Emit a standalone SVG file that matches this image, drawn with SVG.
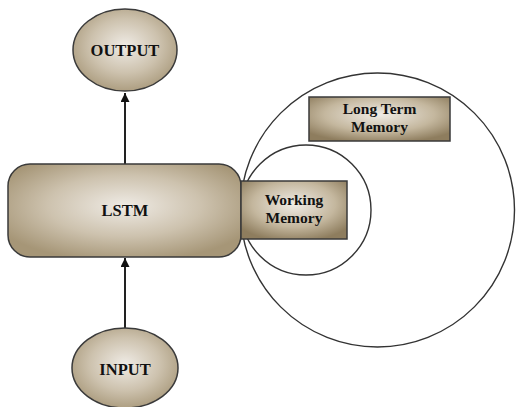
<svg xmlns="http://www.w3.org/2000/svg" width="517" height="407" viewBox="0 0 517 407">
<defs>
<radialGradient id="g" cx="50%" cy="45%" r="60%">
<stop offset="0" stop-color="#efebe5"/>
<stop offset="0.55" stop-color="#cdc2ae"/>
<stop offset="1" stop-color="#a69677"/>
</radialGradient>
<radialGradient id="gr" cx="50%" cy="40%" r="65%">
<stop offset="0" stop-color="#f0ece6"/>
<stop offset="0.6" stop-color="#c4b79e"/>
<stop offset="1" stop-color="#8e7d5e"/>
</radialGradient>
<marker id="ah" viewBox="0 0 10 10" refX="10" refY="5" markerWidth="9" markerHeight="9" markerUnits="userSpaceOnUse" orient="auto">
<path d="M0,0 L10,5 L0,10 z" fill="#111"/>
</marker>
</defs>
<style>
.n{stroke:#3a3a3a;stroke-width:1.5}
.c{fill:none;stroke:#333;stroke-width:1.4}
.t{font-family:"Liberation Serif","Times New Roman",serif;font-weight:bold;font-size:16.5px;fill:#111;text-anchor:middle}
.s{font-size:15.5px}
.e{stroke:#222;stroke-width:2;fill:none}
</style>
<g id="memory-circles">
<circle class="c" cx="377.5" cy="210" r="137"/>
<circle class="c" cx="306" cy="210" r="65"/>
</g>
<g id="connectors">
<line class="e" x1="125" y1="164" x2="125" y2="93" marker-end="url(#ah)"/>
<line class="e" x1="125" y1="328" x2="125" y2="258" marker-end="url(#ah)"/>
</g>
<g id="output">
<ellipse class="n" cx="125" cy="50" rx="52" ry="41" fill="url(#g)"/>
<text class="t" x="125" y="56">OUTPUT</text>
</g>
<g id="lstm">
<rect class="n" x="8" y="164" width="233" height="93" rx="22" fill="url(#g)"/>
<text class="t" x="125" y="216">LSTM</text>
</g>
<g id="working-memory">
<rect class="n" x="241" y="181" width="106" height="58" fill="url(#gr)"/>
<text class="t s" x="294" y="205">Working</text>
<text class="t s" x="294" y="223">Memory</text>
</g>
<g id="long-term-memory">
<rect class="n" x="309" y="97" width="141" height="44" fill="url(#gr)"/>
<text class="t s" x="379.5" y="114">Long Term</text>
<text class="t s" x="379.5" y="132">Memory</text>
</g>
<g id="input">
<ellipse class="n" cx="125" cy="368" rx="53" ry="40" fill="url(#g)"/>
<text class="t" x="125" y="375">INPUT</text>
</g>
</svg>
